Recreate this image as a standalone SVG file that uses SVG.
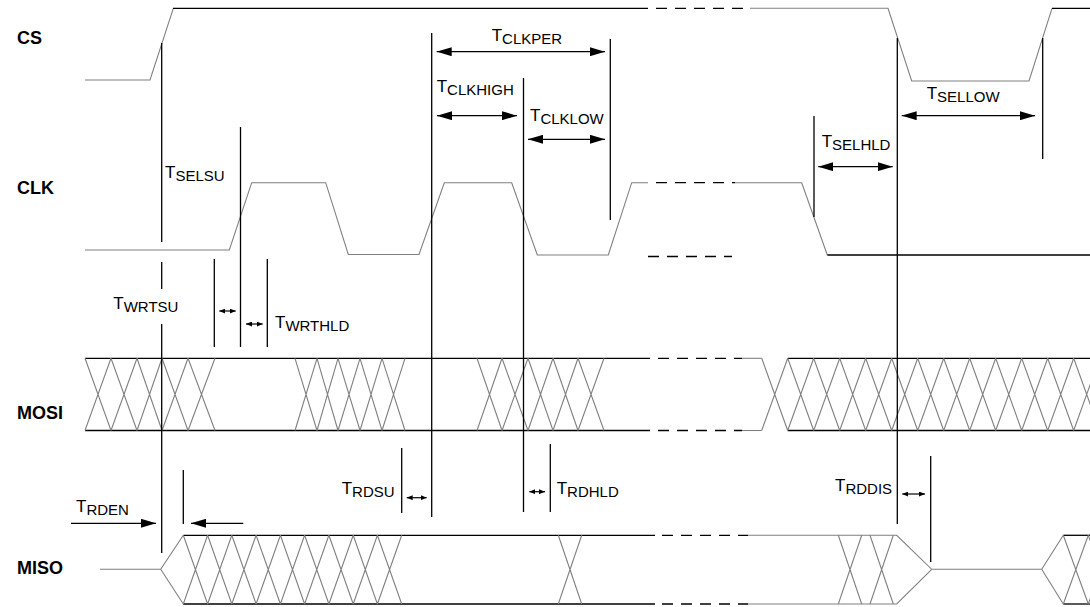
<svg xmlns="http://www.w3.org/2000/svg" width="1090" height="607" viewBox="0 0 1090 607">
<defs>
<marker id="ah" viewBox="0 0 15 9" refX="15" refY="4.5" markerWidth="15" markerHeight="9" markerUnits="userSpaceOnUse" orient="auto-start-reverse"><path d="M0,0 L15,4.5 L0,9 z" fill="#000"/></marker>
<marker id="as" viewBox="0 0 6 5" refX="6" refY="2.5" markerWidth="6" markerHeight="5" markerUnits="userSpaceOnUse" orient="auto-start-reverse"><path d="M0,0 L6,2.5 L0,5 z" fill="#000"/></marker>
<style>
.w{fill:none;stroke:#808080;stroke-width:1.1}
.b{fill:none;stroke:#000;stroke-width:1.3}
.d{fill:none;stroke:#000;stroke-width:1.3;stroke-dasharray:11 8}
.t{fill:none;stroke:#000;stroke-width:1.3}
.a{fill:none;stroke:#000;stroke-width:1.2;marker-start:url(#ah);marker-end:url(#ah)}
.s{fill:none;stroke:#000;stroke-width:1.2;marker-start:url(#as);marker-end:url(#as)}
.sig{font-family:"Liberation Sans",Arial,sans-serif;font-weight:bold;font-size:18px;fill:#000}
.lbl{font-family:"Liberation Sans",Arial,sans-serif;font-size:17px;fill:#000}
.sub{font-size:15px}
</style>
</defs>
<rect width="1090" height="607" fill="#fff"/>

<g id="signal-labels">
<text class="sig" x="17" y="44">CS</text>
<text class="sig" x="17" y="194">CLK</text>
<text class="sig" x="17" y="419">MOSI</text>
<text class="sig" x="17" y="574">MISO</text>
</g>

<g id="CS">
<polyline class="w" points="85,80 150,80 173.3,8.3"/>
<line class="b" x1="173" y1="8.3" x2="648" y2="8.3"/>
<line class="d" x1="656" y1="8.3" x2="748" y2="8.3"/>
<polyline class="w" points="750,8.3 888,8.3 911.7,81 1029,81 1052,8.3"/>
<line class="b" x1="1052" y1="8.3" x2="1090" y2="8.3"/>
</g>

<g id="CLK">
<polyline class="w" points="85,250 229.3,250 251.7,182.7 325.7,182.7 348.3,254.5 419,254.5 444.3,182.7 511.7,182.7 537.3,255 608.3,255 631.7,182.7 648,182.7"/>
<line class="d" x1="656" y1="182.7" x2="735" y2="182.7"/>
<polyline class="w" points="735,182.7 801.7,182.7 827.3,255"/>
<line class="b" x1="827.3" y1="255" x2="1090" y2="255"/>
<line class="d" x1="648" y1="256.5" x2="732" y2="256.5"/>
</g>

<g id="MOSI">
<line class="b" x1="85" y1="358.3" x2="650" y2="358.3"/>
<line class="b" x1="85" y1="430.5" x2="650" y2="430.5"/>
<line class="d" x1="658" y1="358.3" x2="742" y2="358.3"/>
<line class="d" x1="658" y1="430.5" x2="742" y2="430.5"/>
<line class="w" x1="742" y1="358.3" x2="761.7" y2="358.3"/>
<line class="w" x1="742" y1="430.5" x2="761.7" y2="430.5"/>
<line class="b" x1="787.7" y1="358.3" x2="1090" y2="358.3"/>
<line class="b" x1="787.7" y1="430.5" x2="1090" y2="430.5"/>
<path class="w" d="M85,358.3 L111,430.5 M85,430.5 L111,358.3 M111,358.3 L137,430.5 M111,430.5 L137,358.3 M137,358.3 L162,430.5 M137,430.5 L162,358.3 M162,358.3 L188,430.5 M162,430.5 L188,358.3 M188,358.3 L215,430.5 M188,430.5 L215,358.3"/>
<path class="w" d="M295,358.3 L317,430.5 M295,430.5 L317,358.3 M317,358.3 L338,430.5 M317,430.5 L338,358.3 M338,358.3 L360,430.5 M338,430.5 L360,358.3 M360,358.3 L382,430.5 M360,430.5 L382,358.3 M382,358.3 L405,430.5 M382,430.5 L405,358.3"/>
<path class="w" d="M477,358.3 L502,430.5 M477,430.5 L502,358.3 M502,358.3 L528,430.5 M502,430.5 L528,358.3 M528,358.3 L553,430.5 M528,430.5 L553,358.3 M553,358.3 L578,430.5 M553,430.5 L578,358.3 M578,358.3 L604,430.5 M578,430.5 L604,358.3"/>
<path class="w" d="M761.7,358.3 L787.7,430.5 M761.7,430.5 L787.7,358.3 M787.7,358.3 L813.7,430.5 M787.7,430.5 L813.7,358.3 M813.7,358.3 L839.7,430.5 M813.7,430.5 L839.7,358.3 M839.7,358.3 L865.7,430.5 M839.7,430.5 L865.7,358.3 M865.7,358.3 L891.7,430.5 M865.7,430.5 L891.7,358.3 M891.7,358.3 L917.7,430.5 M891.7,430.5 L917.7,358.3 M917.7,358.3 L943.7,430.5 M917.7,430.5 L943.7,358.3 M943.7,358.3 L969.7,430.5 M943.7,430.5 L969.7,358.3 M969.7,358.3 L995.7,430.5 M969.7,430.5 L995.7,358.3 M995.7,358.3 L1021.7,430.5 M995.7,430.5 L1021.7,358.3 M1021.7,358.3 L1047.7,430.5 M1021.7,430.5 L1047.7,358.3 M1047.7,358.3 L1073.7,430.5 M1047.7,430.5 L1073.7,358.3 M1073.7,358.3 L1099.7,430.5 M1073.7,430.5 L1099.7,358.3"/>
</g>

<g id="MISO">
<polyline class="w" points="100,569.3 160.7,569.3 183.3,535.3"/>
<line class="w" x1="160.7" y1="569.3" x2="183.3" y2="604"/>
<line class="b" x1="183.3" y1="535.3" x2="655" y2="535.3"/>
<line class="b" x1="183.3" y1="604" x2="655" y2="604"/>
<line class="d" x1="662" y1="535.3" x2="748" y2="535.3"/>
<line class="d" x1="662" y1="604" x2="748" y2="604"/>
<polyline class="w" points="748,535.3 896.7,535.3 931.7,569.3 1041.7,569.3 1063.3,535.3"/>
<polyline class="w" points="748,604 896.7,604 931.7,569.3"/>
<line class="w" x1="1041.7" y1="569.3" x2="1063.3" y2="604"/>
<line class="b" x1="1063.3" y1="535.3" x2="1090" y2="535.3"/>
<line class="b" x1="1063.3" y1="604" x2="1090" y2="604"/>
<path class="w" d="M183.3,535.3 L207.6,604 M183.3,604 L207.6,535.3 M207.6,535.3 L231.8,604 M207.6,604 L231.8,535.3 M231.8,535.3 L256.1,604 M231.8,604 L256.1,535.3 M256.1,535.3 L280.4,604 M256.1,604 L280.4,535.3 M280.4,535.3 L304.6,604 M280.4,604 L304.6,535.3 M304.6,535.3 L328.9,604 M304.6,604 L328.9,535.3 M328.9,535.3 L353.2,604 M328.9,604 L353.2,535.3 M353.2,535.3 L377.4,604 M353.2,604 L377.4,535.3 M377.4,535.3 L401.7,604 M377.4,604 L401.7,535.3"/>
<path class="w" d="M558.3,535.3 L581.7,604 M558.3,604 L581.7,535.3"/>
<path class="w" d="M838.3,535.3 L861.7,604 M838.3,604 L861.7,535.3 M870,535.3 L893.3,604 M870,604 L893.3,535.3"/>
<path class="w" d="M1063.3,535.3 L1088.3,604 M1063.3,604 L1088.3,535.3 M1088.3,535.3 L1113.3,604 M1088.3,604 L1113.3,535.3"/>
</g>

<g id="reference-lines">
<path class="t" d="M161.7,43 V242 M161.7,262 V289 M161.7,324 V553"/>
<line class="t" x1="240.5" y1="127" x2="240.5" y2="347"/>
<line class="t" x1="214.3" y1="259" x2="214.3" y2="347"/>
<line class="t" x1="267.3" y1="259" x2="267.3" y2="347"/>
<line class="t" x1="431.7" y1="33" x2="431.7" y2="517"/>
<line class="t" x1="523.5" y1="78" x2="523.5" y2="512"/>
<line class="t" x1="610.3" y1="39" x2="610.3" y2="220"/>
<line class="t" x1="814" y1="116" x2="814" y2="217"/>
<line class="t" x1="897.3" y1="38" x2="897.3" y2="524"/>
<line class="t" x1="1042.7" y1="38" x2="1042.7" y2="159"/>
<line class="t" x1="401.7" y1="448" x2="401.7" y2="513"/>
<line class="t" x1="183.3" y1="470" x2="183.3" y2="524"/>
<line class="t" x1="550.3" y1="444" x2="550.3" y2="512"/>
<line class="t" x1="930.7" y1="456" x2="930.7" y2="562"/>
</g>

<g id="connectors">
<line class="a" x1="436.7" y1="51.7" x2="605" y2="51.7"/>
<line class="a" x1="437" y1="115.7" x2="517" y2="115.7"/>
<line class="a" x1="528" y1="139.3" x2="605" y2="139.3"/>
<line class="a" x1="818.3" y1="166.7" x2="892.7" y2="166.7"/>
<line class="a" x1="901.7" y1="115.7" x2="1035" y2="115.7"/>
<line class="t" x1="71" y1="523.3" x2="156" y2="523.3" style="marker-end:url(#ah)"/>
<line class="t" x1="243.3" y1="523.3" x2="191" y2="523.3" style="marker-end:url(#ah)"/>
<line class="s" x1="219.3" y1="311" x2="235.7" y2="311"/>
<line class="s" x1="246" y1="324" x2="262.7" y2="324"/>
<line class="s" x1="406.7" y1="497.7" x2="426.7" y2="497.7"/>
<line class="s" x1="529.3" y1="491.7" x2="545" y2="491.7"/>
<line class="s" x1="902.3" y1="494" x2="925" y2="494"/>
</g>

<g id="timing-labels" class="lbl">
<text id="TSELSU" x="165" y="177.5">T<tspan class="sub" dy="3">SELSU</tspan></text>
<text id="TCLKPER" x="491.7" y="40.5">T<tspan class="sub" dy="3">CLKPER</tspan></text>
<text id="TCLKHIGH" x="436.7" y="92">T<tspan class="sub" dy="3">CLKHIGH</tspan></text>
<text id="TCLKLOW" x="530" y="120.5">T<tspan class="sub" dy="3">CLKLOW</tspan></text>
<text id="TSELHLD" x="821.7" y="147">T<tspan class="sub" dy="3">SELHLD</tspan></text>
<text id="TSELLOW" x="926.7" y="99">T<tspan class="sub" dy="3">SELLOW</tspan></text>
<text id="TWRTSU" x="113.3" y="309">T<tspan class="sub" dy="3">WRTSU</tspan></text>
<text id="TWRTHLD" x="275" y="328">T<tspan class="sub" dy="3">WRTHLD</tspan></text>
<text id="TRDEN" x="76" y="512">T<tspan class="sub" dy="3">RDEN</tspan></text>
<text id="TRDSU" x="341.7" y="494">T<tspan class="sub" dy="3">RDSU</tspan></text>
<text id="TRDHLD" x="556.7" y="494">T<tspan class="sub" dy="3">RDHLD</tspan></text>
<text id="TRDDIS" x="835" y="490.5">T<tspan class="sub" dy="3">RDDIS</tspan></text>
</g>
</svg>
